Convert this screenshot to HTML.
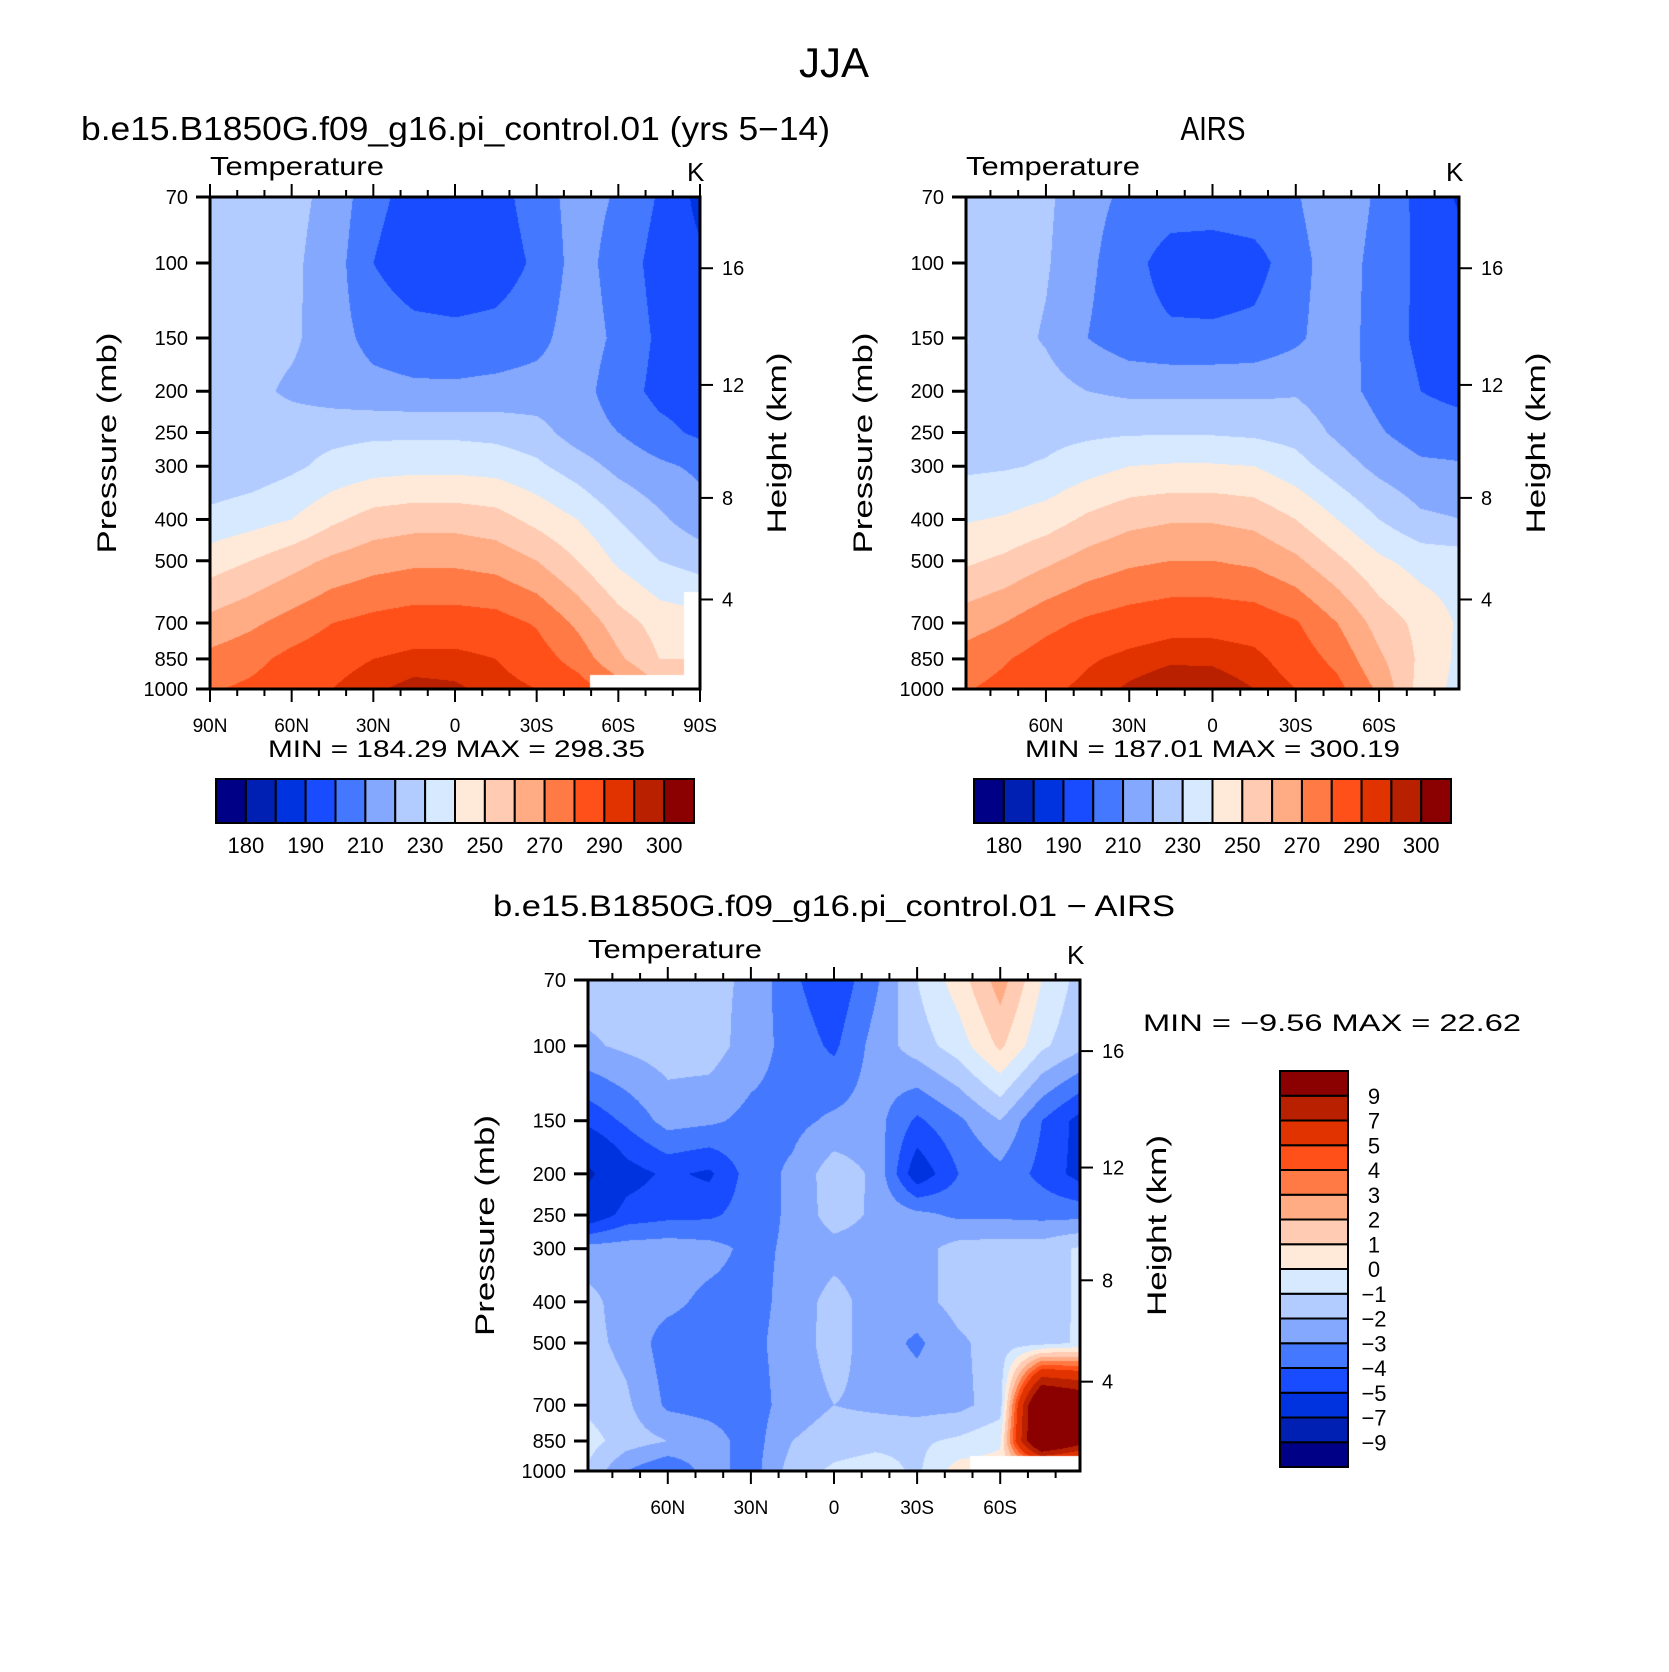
<!DOCTYPE html>
<html><head><meta charset="utf-8"><style>
html,body{margin:0;padding:0;background:#fff;}
#wrap{position:relative;width:1669px;height:1672px;overflow:hidden;font-family:"Liberation Sans",sans-serif;}
canvas{position:absolute;}
svg{position:absolute;left:0;top:0;}
text{font-family:"Liberation Sans",sans-serif;fill:#000;}
</style></head><body>
<div id="wrap">
<canvas id="c1"></canvas>
<canvas id="c2"></canvas>
<canvas id="c3"></canvas>
<svg id="svg" width="1669" height="1672">
<text x="834" y="77" font-size="42" text-anchor="middle" textLength="70" lengthAdjust="spacingAndGlyphs">JJA</text>
<text x="81" y="140" font-size="33" textLength="749" lengthAdjust="spacingAndGlyphs">b.e15.B1850G.f09_g16.pi_control.01 (yrs 5−14)</text>
<text x="1213" y="140" font-size="33" text-anchor="middle" textLength="65" lengthAdjust="spacingAndGlyphs">AIRS</text>
<text x="834" y="916" font-size="30" text-anchor="middle" textLength="682" lengthAdjust="spacingAndGlyphs">b.e15.B1850G.f09_g16.pi_control.01  −  AIRS</text>
<text x="268" y="757" font-size="24" textLength="377" lengthAdjust="spacingAndGlyphs">MIN  =  184.29    MAX  =  298.35</text>
<text x="1025" y="757" font-size="24" textLength="375" lengthAdjust="spacingAndGlyphs">MIN  =  187.01    MAX  =  300.19</text>
<text x="1143" y="1031" font-size="24" textLength="378" lengthAdjust="spacingAndGlyphs">MIN  =    −9.56    MAX  =    22.62</text>
<g id="axes"></g>
</svg>
</div>
<script>
// ---- data ----
const lats = [90,75,60,45,30,15,0,-15,-30,-45,-60,-75,-90];
const levels = [70,100,150,200,250,300,400,500,700,850,1000];
const modelTemp = [
[226,225,223,217,203,196,195,196,205,214,209,199,187],
[226,225,222,215,200,193,192,194,202,214,206,196,192],
[226,225,222,214,207,204,203,204,207,215,208,198,193],
[225,223,218,215,213,212,212,213,214,214,205,197,195],
[225,226,226,227,228,228,228,227,224,215,210,203,198],
[222,224,228,233,236,237,237,236,232,225,217,212,208],
[233,236,240,248,254,256,256,254,247,240,230,222,214],
[245,250,256,262,266,268,268,266,260,250,238,230,226],
[263,268,274,280,283,285,285,284,279,268,255,246,244],
[273,277,283,287,290,292,292,290,285,276,262,250,250],
[279,282,286,290,294,297,296,293,290,285,275,262,255]];
const airsTemp = [
[226,225,222,213,208,206,206,207,209,218,208,197,188],
[226,225,221,212,204,195,194,196,206,216,206,198,194],
[231,224,219,210,204,202,202,203,208,216,205,198,196],
[229,226,224,220,218,218,218,218,219,214,207,200,197],
[229,227,227,228,229,229,229,228,226,218,211,205,204],
[228,229,231,236,240,241,241,240,234,225,217,212,211],
[239,241,245,252,257,259,259,257,250,240,230,222,220],
[248,252,258,264,268,270,270,268,262,252,242,236,235],
[265,270,277,282,285,287,287,286,281,270,256,247,238],
[274,279,285,289,292,294,294,292,286,277,262,248,237],
[279,283,288,292,296,299,298,295,290,283,268,246,236]];
const diffTemp = [
[-1.5,-1.5,-1.5,-1.7,-2.2,-3.8,-4.8,-3.2,-1.0,0.5,2.5,0.0,-1.5],
[-2.2,-1.8,-1.5,-1.5,-2.5,-3.4,-4.2,-2.6,-1.5,-0.5,1.2,-0.8,-1.8],
[-4.8,-3.8,-2.6,-2.8,-3.3,-3.3,-2.8,-2.6,-4.2,-3.2,-2.0,-4.0,-5.5],
[-7.5,-5.5,-4.8,-5.2,-3.5,-2.8,-1.4,-2.2,-5.8,-4.0,-3.3,-4.3,-5.5],
[-6.0,-4.6,-4.3,-4.2,-3.5,-2.8,-1.5,-2.2,-2.7,-3.2,-3.2,-3.3,-3.3],
[-2.6,-2.5,-2.4,-2.6,-3.3,-2.8,-2.4,-2.5,-2.4,-1.6,-1.5,-1.5,-0.8],
[-1.6,-2.5,-2.7,-3.3,-3.4,-2.6,-1.6,-2.5,-2.4,-1.6,-1.5,-1.5,-0.8],
[-1.6,-2.3,-3.5,-3.6,-3.3,-2.5,-1.6,-2.5,-3.2,-2.2,-1.5,-1.4,-0.8],
[-1.2,-1.8,-3.2,-3.4,-3.5,-2.5,-2.0,-2.2,-2.4,-2.3,-1.5,14,12],
[-0.5,-1.5,-2.0,-2.5,-3.5,-2.0,-1.5,-1.3,-1.2,-0.8,-0.2,14,10],
[-1.0,-3.0,-4.0,-2.5,-3.5,-1.5,-0.8,-0.5,-1.2,0.5,0.5,0,0]];
const tempLevels = [180,185,190,200,210,220,230,240,250,260,270,280,290,295,300];
const tempLabels = ["180","190","210","230","250","270","290","300"];
const diffLevels = [-9,-7,-5,-4,-3,-2,-1,0,1,2,3,4,5,7,9];
const diffLabels = ["−9","−7","−5","−4","−3","−2","−1","0","1","2","3","4","5","7","9"];
const palette = ["#000087","#0020b4","#0033e0","#1a4cff","#4479ff","#85a8ff","#b3ccff","#d6e9ff","#ffead9","#ffcbb2","#ffac85","#ff7a45","#ff5019","#e03300","#b82000","#8b0000"];
const modelMaskLat = [-49.5,-84]; const modelMaskP = [927,593];
const diffMaskLat = [-49]; const diffMaskP = [924];
const pressTicks = [70,100,150,200,250,300,400,500,700,850,1000];
const heightTicks = [4,8,12,16];

// ---- layout ----
const P1 = {x0:210,x1:700,y0:197,y1:689,latMax:90};
const P2 = {x0:966,x1:1459,y0:197,y1:689,latMax:88.8};
const P3 = {x0:588,x1:1080,y0:980,y1:1471,latMax:88.8};
const lnTop = Math.log(70), lnBot = Math.log(1000);
function yOfP(P,p){return P.y0+(Math.log(p)-lnTop)/(lnBot-lnTop)*(P.y1-P.y0);}
function xOfLat(P,lat){return P.x0+(P.latMax-lat)/(2*P.latMax)*(P.x1-P.x0);}
function pOfZ(zkm){const z=zkm*1000; if(z<=11000) return 1013.25*Math.pow(1-2.25577e-5*z,5.25588); return 226.32*Math.exp(-(z-11000)/6341.6);}
const lnLev = levels.map(Math.log);

function sample(field,lat,p){
  let fi=(90-lat)/15; fi=Math.max(0,Math.min(lats.length-1.0001,fi));
  const i=Math.floor(fi), ti=fi-i;
  const lp=Math.log(p); let j=0;
  while(j<lnLev.length-2 && lp>lnLev[j+1]) j++;
  let tj=(lp-lnLev[j])/(lnLev[j+1]-lnLev[j]); tj=Math.max(0,Math.min(1,tj));
  const a=field[j][i],b=field[j][i+1],c=field[j+1][i],d=field[j+1][i+1];
  return (a*(1-ti)+b*ti)*(1-tj)+(c*(1-ti)+d*ti)*tj;
}
function hex(h){return [parseInt(h.substr(1,2),16),parseInt(h.substr(3,2),16),parseInt(h.substr(5,2),16)];}
const rgb = palette.map(hex);
function binOf(v,lv){let k=0; while(k<lv.length && v>=lv[k]) k++; return k;}

function drawField(id,P,field,lv,mLat,mP){
  const cv=document.getElementById(id);
  const w=P.x1-P.x0,h=P.y1-P.y0;
  cv.width=w; cv.height=h; cv.style.left=P.x0+'px'; cv.style.top=P.y0+'px';
  const ctx=cv.getContext('2d'); const img=ctx.createImageData(w,h);
  for(let y=0;y<h;y++){
    const p=Math.exp(lnTop+(y+0.5)/h*(lnBot-lnTop));
    for(let x=0;x<w;x++){
      const lat=P.latMax-(x+0.5)/w*2*P.latMax;
      let masked=false;
      for(let m=0;m<mLat.length;m++){ if(lat<mLat[m] && p>mP[m]) masked=true; }
      const o=(y*w+x)*4;
      if(masked){img.data[o]=255;img.data[o+1]=255;img.data[o+2]=255;img.data[o+3]=255;continue;}
      const c=rgb[binOf(sample(field,lat,p),lv)];
      img.data[o]=c[0];img.data[o+1]=c[1];img.data[o+2]=c[2];img.data[o+3]=255;
    }
  }
  ctx.putImageData(img,0,0);
}
drawField('c1',P1,modelTemp,tempLevels,modelMaskLat,modelMaskP);
drawField('c2',P2,airsTemp,tempLevels,[],[]);
drawField('c3',P3,diffTemp,diffLevels,diffMaskLat,diffMaskP);

const NS='http://www.w3.org/2000/svg';
const G=document.getElementById('axes');
function mk(tag,attrs,parent){const e=document.createElementNS(NS,tag); for(const k in attrs) e.setAttribute(k,attrs[k]); (parent||G).appendChild(e); return e;}
function line(x1,y1,x2,y2,w,par){return mk('line',{x1:x1,y1:y1,x2:x2,y2:y2,stroke:'#000','stroke-width':w},par);}
function txt(x,y,s,size,anchor,par){const t=mk('text',{x:x,y:y,'font-size':size,'text-anchor':anchor||'start'},par); t.textContent=s; return t;}

function latLabel(l){return l===0?'0':(Math.abs(l)+(l>0?'N':'S'));}
function axes(P,name,majorLats,plx,hlx){
  const g=mk('g',{});
  
  
  const fr=mk('rect',{x:P.x0,y:P.y0,width:P.x1-P.x0,height:P.y1-P.y0,fill:'none',stroke:'#000','stroke-width':3},g);
  
  
  for(let l=80;l>=-80;l-=10){
    if(Math.abs(l)>P.latMax) continue;
    const x=xOfLat(P,l); const major=majorLats.indexOf(l)>=0; const len=major?13:7;
    line(x,P.y1,x,P.y1+len,2,g); line(x,P.y0,x,P.y0-len,2,g);
    if(major){const t=txt(x,P.y1+43,latLabel(l),19,'middle',g);
      
      }
  }
  if(P.latMax>=90){[90,-90].forEach(l=>{const x=xOfLat(P,l); line(x,P.y1,x,P.y1+13,2,g); line(x,P.y0,x,P.y0-13,2,g);
      const t=txt(x,P.y1+43,latLabel(l),19,'middle',g);
      
      });}
  pressTicks.forEach(p=>{const y=yOfP(P,p); line(P.x0-14,y,P.x0,y,3,g);
    const t=txt(P.x0-22,y+7,String(p),20,'end',g);
    
    });
  heightTicks.forEach(z=>{const y=yOfP(P,pOfZ(z)); line(P.x1,y,P.x1+13,y,2,g);
    const t=txt(P.x1+22,y+7,String(z),20,'start',g);
    
    });
  const cy=(P.y0+P.y1)/2;
  const yl=mk('text',{x:0,y:0,'font-size':27,'text-anchor':'middle',transform:'translate('+plx+','+cy+') rotate(-90)',textLength:221,lengthAdjust:'spacingAndGlyphs'},g);
  yl.textContent='Pressure  (mb)';
  
  
  const hl=mk('text',{x:0,y:0,'font-size':27,'text-anchor':'middle',transform:'translate('+hlx+','+cy+') rotate(-90)',textLength:181,lengthAdjust:'spacingAndGlyphs'},g);
  hl.textContent='Height  (km)';
  
  
  const tt=mk('text',{x:P.x0,y:P.y0-22,'font-size':26,textLength:174,lengthAdjust:'spacingAndGlyphs'},g);
  tt.textContent='Temperature';
  
  
  const k=txt(P.x1-13,P.y0-16,'K',26,'start',g);
  
  
}
axes(P1,'model',[60,30,0,-30,-60],116,786);
axes(P2,'airs',[60,30,0,-30,-60],872,1545);
axes(P3,'difference',[60,30,0,-30,-60],494,1166);

function hbar(x0,x1,y0,y1,name){
  const n=palette.length,w=(x1-x0)/n;
  const g=mk('g',{});
  
  
  palette.forEach((c,i)=>{const r=mk('rect',{x:x0+i*w,y:y0,width:w,height:y1-y0,fill:c,stroke:'#000','stroke-width':2},g);
    
    });
  tempLabels.forEach((s)=>{const bi=tempLevels.indexOf(Number(s)); const x=x0+(bi+1)*w;
    const t=txt(x,y1+30,s,22,'middle',g);
    
    });
}
hbar(216,694,779,823,'model-colorbar');
hbar(974,1451,779,823,'airs-colorbar');
(function(){
  const x0=1280,x1=1348,y0=1071,y1=1467,n=palette.length,h=(y1-y0)/n;
  const g=mk('g',{});
  
  
  palette.forEach((c,i)=>{const r=mk('rect',{x:x0,y:y1-(i+1)*h,width:x1-x0,height:h,fill:c,stroke:'#000','stroke-width':2},g);
    
    });
  diffLevels.forEach((v,i)=>{const y=y1-(i+1)*h;
    const t=txt(1374,y+8,diffLabels[i],22,'middle',g);
    
    });
})();
</script>
</body></html>
